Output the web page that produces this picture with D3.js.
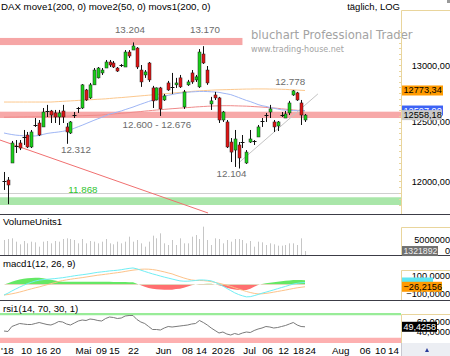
<!DOCTYPE html>
<html><head><meta charset="utf-8">
<script src="https://cdn.jsdelivr.net/npm/d3@7"></script>
<style>
html,body{margin:0;padding:0;background:#fff;overflow:hidden;}
svg{display:block;font-family:"Liberation Sans",Arial,sans-serif;}
</style></head><body>
<svg id="c" width="450" height="356"></svg>
<script>
// ---------------- DATA ----------------
const title = "DAX move1(200, 0) move2(50, 0) movs1(200, 0)";
const period = "täglich, LOG";
const open  = [12000,12008,12150,12285,12319,12361,12387,12285,12464,12490,12456,12585,12594,12577,12542,12594,12456,12404,12559,12612,12620,12778,12708,12823,12885,12929,12973,13027,13018,12973,12991,12982,13117,13135,13153,12955,12911,13018,12796,12690,12796,12690,12840,12805,12823,12885,12629,12823,12929,12867,12805,13099,12955,12655,12734,12708,12516,12499,12327,12259,12302,12327,12150,12327,12336,12370,12507,12559,12585,12499,12464,12559,12533,12577,12734,12752,12664,12516];
const high  = [12075,12033,12336,12344,12344,12430,12413,12430,12533,12516,12620,12647,12603,12603,12603,12647,12490,12507,12585,12629,12830,12787,12840,12973,12982,12973,13045,13045,13036,12982,13009,13135,13135,13204,13162,13000,12955,13027,12814,12800,12805,12743,12858,12929,12885,12911,12778,12867,12955,12911,13144,13170,12991,12717,12761,12717,12594,12516,12361,12430,12327,12387,12259,12430,12344,12473,12533,12577,12647,12516,12507,12585,12594,12682,12778,12761,12690,12568];
const low   = [11926,11810,12150,12234,12259,12302,12276,12276,12456,12378,12456,12542,12490,12490,12473,12490,12312,12396,12533,12577,12612,12682,12699,12823,12880,12911,12973,12982,12973,12938,12982,12982,13063,13135,12964,12805,12885,12849,12620,12686,12551,12682,12770,12743,12796,12796,12612,12814,12832,12849,12796,13009,12823,12603,12690,12490,12499,12276,12158,12117,12104,12276,12142,12319,12302,12370,12456,12499,12533,12413,12421,12542,12533,12559,12726,12682,12473,12499];
const close = [12004,11967,12319,12293,12276,12370,12285,12413,12473,12387,12585,12594,12559,12542,12577,12542,12413,12499,12562,12620,12823,12690,12823,12955,12973,12955,13027,13000,12982,12946,13000,13117,13081,13172,12982,12849,12938,12867,12682,12796,12612,12726,12778,12800,12840,12805,12761,12849,12849,12894,13117,13018,12840,12682,12708,12516,12585,12285,12242,12353,12192,12330,12242,12353,12338,12456,12510,12562,12612,12456,12499,12562,12568,12664,12770,12690,12559,12558.18];
const volume = [5000000,5330000,5560000,4440000,3560000,4670000,3890000,4440000,4220000,2780000,4440000,4670000,3890000,4670000,4440000,5330000,5560000,5330000,5000000,3890000,5330000,3890000,4670000,4440000,3890000,4440000,5330000,3890000,3560000,4440000,3890000,4440000,6110000,4440000,5000000,3890000,2780000,4440000,6440000,5560000,7220000,3890000,3330000,5000000,3330000,5560000,3890000,3890000,6110000,6670000,5330000,9440000,5000000,3330000,5560000,5330000,3890000,5000000,4440000,5330000,5330000,5000000,3890000,4670000,2780000,4440000,4220000,3330000,3890000,3560000,3110000,3110000,3330000,3890000,3890000,3330000,5560000,1321892];
const move1 = [12672,12672,12672,12672,12672,12672,12672,12672,12672,12672,12672,12672,12672,12674,12676,12678,12680,12682,12684,12686,12688,12690,12692,12694,12696,12698,12700,12703,12706,12709,12711,12714,12717,12720,12723,12726,12729,12732,12735,12738,12741,12744,12747,12750,12753,12756,12759,12762,12765,12768,12770,12772,12774,12776,12778,12779,12780,12781,12782,12783,12784,12785,12786,12786,12787,12787,12787,12787,12786,12786,12785,12784,12783,12781,12779,12777,12775,12773.34];
const move2 = [12404,12397,12391,12386,12383,12380,12378,12378,12379,12383,12392,12400,12405,12409,12413,12418,12425,12431,12445,12458,12471,12485,12499,12513,12526,12539,12553,12567,12576,12585,12594,12606,12617,12628,12641,12653,12665,12677,12688,12700,12712,12723,12731,12738,12745,12750,12754,12758,12761,12763,12765,12765,12764,12762,12760,12757,12750,12744,12737,12725,12712,12699,12686,12676,12663,12650,12640,12634,12625,12618,12611,12604,12601,12599,12598,12597,12597,12597.9];
const movs1 = [12540,12540,12541,12541,12542,12542,12543,12543,12544,12544,12545,12545,12546,12547,12548,12549,12549,12550,12551,12552,12553,12554,12555,12556,12557,12559,12562,12565,12568,12571,12574,12577,12580,12583,12586,12589,12593,12596,12599,12602,12605,12608,12611,12614,12616,12619,12621,12624,12626,12629,12631,12633,12635,12637,12638,12639,12640,12640,12640,12639,12638,12637,12636,12634,12632,12630,12628,12625,12622,12620,12617,12613,12610,12606,12603,12600,12597,12594];
const macdLine = [-121,-100,-75,-52,-30,-10,10,25,40,50,56,60,64,68,73,78,85,92,100,106,112,118,125,133,140,145,150,156,160,164,170,178,185,190,180,165,150,136,122,110,97,85,74,63,52,42,38,38,42,46,52,52,48,42,25,5,-18,-45,-70,-95,-115,-130,-142,-140,-128,-115,-100,-88,-75,-62,-48,-35,-22,-8,5,14,20,23.08];
const signalLine = [-121,-115,-107,-98,-87,-75,-62,-50,-38,-28,-15,-3,10,22,35,45,53,60,67,73,79,86,93,100,107,112,118,124,130,136,142,150,158,165,170,175,177,176,172,165,155,145,133,122,105,90,75,62,52,47,46,45,40,33,24,14,3,-8,-22,-37,-52,-66,-80,-92,-102,-108,-107,-102,-96,-88,-80,-72,-64,-55,-46,-38,-32,-26.2156];
const rsi = [41,40,50,53,56,55,54,54,56,58,56,54,53,56,60,59,55,53,57,61,63,62,65,64,62,61,66,69,68,66,67,71,72,72,64,59,56,50,44,44,43,47,50,49,50,51,52,53,55,56,62,58,53,47,42,37,39,35,33,36,34,37,39,38,42,45,47,50,49,47,48,50,52,55,58,53,50,49.4258];
// x-axis ticks (trading-day index positions) and labels
const tickIdx    = [0.75,5.6,9.5,13.05,20.2,24.8,28.1,33,40.7,46.8,50.4,54.4,57.5,62.7,67.3,71.4,75.2,78.3,86,92.3,96.2,99.5];
const tickLabels = ["'18","10","16","20","Mai","09","15","22","Jun","08","14","20","26","Jul","06","12","18","24","Aug","06","10","14"];
const priceTicks = [12000,12500,13000];
const volTicks = [0,5000000];
const macdTicks = [100,-100];
const rsiTicks = [60,40];
// zones / support & resistance
const bandTop = [13180,13245], bandTopIdx=[-2,61];
const bandMid = [12533,12588];
const bandGreen = [11803,11866];
const grayLevel = 11903;
const redTrend = [[-1.02,12344],[52.2,11738]];
const grayTrend = [[60,12150],[80.3,12743]];
const annotations = [
  {t:"13.204", i:32.2, p:13204, dy:-12.6, c:"#6b6b6b"},
  {t:"13.170", i:51.4, p:13170, dy:-16.4, c:"#6b6b6b"},
  {t:"12.778", i:73.2, p:12778, dy:-8.5, c:"#6b6b6b"},
  {t:"12.600 - 12.676", i:39.1, p:12600, dy:14.4, c:"#6b6b6b"},
  {t:"12.312", i:18.4, p:12312, dy:5.7, c:"#6b6b6b"},
  {t:"12.104", i:58.2, p:12104, dy:5, c:"#6b6b6b"},
  {t:"11.868", i:20.2, p:11868, dy:-7.5, c:"#2fc42f"}
];
const lastVals = {close:12558.18, move1:12773.34, move2:12597.9, vol:1321892, macd:23.08, signal:-26.2156, rsi:49.4258};

// ---------------- SCALES ----------------
const svg = d3.select("#c");
const N = close.length;
const x = d3.scaleLinear().domain([0, N-1]).range([4, 305]);
const y = d3.scaleLog().domain([12000,13000]).range([181,65]);
const yV = d3.scaleLinear().domain([0,5000000]).range([255,240]);
const yM = d3.scaleLinear().domain([-100,100]).range([293.2,275.8]);
const yR = d3.scaleLinear().domain([40,60]).range([331.5,321.5]);
const comma = (v,d)=>d3.format("."+d+"f")(v).replace(".",",");
const FONT = "'Liberation Sans', Arial, sans-serif";

const defs = svg.append("defs");
defs.append("clipPath").attr("id","clipMain").append("rect").attr("x",0).attr("y",11).attr("width",401).attr("height",203);
defs.append("clipPath").attr("id","clipPos").append("rect").attr("x",0).attr("y",258).attr("width",401).attr("height",yM(0)-258);
defs.append("clipPath").attr("id","clipNeg").append("rect").attr("x",0).attr("y",yM(0)).attr("width",401).attr("height",300-yM(0));

// ---------------- MAIN PANEL ----------------
const main = svg.append("g").attr("clip-path","url(#clipMain)");
main.append("rect").attr("x",x(bandTopIdx[0])).attr("width",x(bandTopIdx[1])-x(bandTopIdx[0]))
  .attr("y",y(bandTop[1])).attr("height",y(bandTop[0])-y(bandTop[1])).attr("fill","#f6a6a6");
main.append("rect").attr("x",0).attr("width",401).attr("y",y(bandMid[1])).attr("height",y(bandMid[0])-y(bandMid[1])).attr("fill","#f7a8a8");
main.append("rect").attr("x",0).attr("width",401).attr("y",y(bandGreen[1])).attr("height",y(bandGreen[0])-y(bandGreen[1])).attr("fill","#a9e6a9");
main.append("line").attr("x1",0).attr("x2",401).attr("y1",Math.round(y(grayLevel))+0.5).attr("y2",Math.round(y(grayLevel))+0.5).attr("stroke","#cfcfcf");

// watermark
svg.append("text").attr("x",251).attr("y",39).attr("font-family","'DejaVu Sans', Verdana, sans-serif").attr("font-size",11.6).attr("fill","#a3a3a3").text("bluchart Professional Trader");
svg.append("text").attr("x",251).attr("y",51.5).attr("font-family","'DejaVu Sans', Verdana, sans-serif").attr("font-size",8).attr("fill","#a3a3a3").text("www.trading-house.net");

const lineGen = arr => d3.line().x((d,i)=>x(i)).y(d=>y(d))(arr);
main.append("path").attr("d",lineGen(movs1)).attr("fill","none").attr("stroke","#f08a8a").attr("stroke-width",1);
main.append("path").attr("d",lineGen(move1)).attr("fill","none").attr("stroke","#fcc88e").attr("stroke-width",1);
main.append("path").attr("d",lineGen(move2)).attr("fill","none").attr("stroke","#9fb6f5").attr("stroke-width",1);

const segGen = d3.line().x(d=>x(d[0])).y(d=>y(d[1]));
main.append("path").attr("d",segGen(redTrend)).attr("fill","none").attr("stroke","#f07070").attr("stroke-width",1);
main.append("path").attr("d",segGen(grayTrend)).attr("fill","none").attr("stroke","#c4c4c4").attr("stroke-width",1);

// candles
const idx = d3.range(N);
const cg = main.append("g");
cg.selectAll("line.w").data(idx).join("line").attr("class","w")
  .attr("x1",i=>Math.round(x(i))+0.5).attr("x2",i=>Math.round(x(i))+0.5)
  .attr("y1",i=>y(high[i])).attr("y2",i=>y(low[i])).attr("stroke","#111").attr("stroke-width",1);
const isDoji = i => Math.abs(y(open[i])-y(close[i])) < 1.2;
cg.selectAll("rect.b").data(idx.filter(i=>!isDoji(i))).join("rect").attr("class","b")
  .attr("x",i=>Math.round(x(i))-1).attr("width",3)
  .attr("y",i=>Math.min(y(open[i]),y(close[i]))).attr("height",i=>Math.abs(y(open[i])-y(close[i])))
  .attr("fill",i=>close[i]>open[i]?"#18d018":"#e01414").attr("stroke","#222").attr("stroke-width",0.5);
cg.selectAll("line.d").data(idx.filter(isDoji)).join("line").attr("class","d")
  .attr("x1",i=>Math.round(x(i))-1.5).attr("x2",i=>Math.round(x(i))+2.5)
  .attr("y1",i=>Math.round(y(close[i]))+0.5).attr("y2",i=>Math.round(y(close[i]))+0.5).attr("stroke","#111");

// annotations
svg.selectAll("text.ann").data(annotations).join("text").attr("class","ann")
  .attr("x",d=>x(d.i)).attr("y",d=>y(d.p)+d.dy).attr("dominant-baseline","central")
  .attr("text-anchor","middle").attr("font-size",9.8).attr("fill",d=>d.c).text(d=>d.t);

// title
svg.append("text").attr("x",1).attr("y",9.5).attr("font-size",9.7).attr("fill","#000").text(title);
svg.append("text").attr("x",400).attr("y",9.5).attr("text-anchor","end").attr("font-size",9.5).attr("fill","#000").text(period);
svg.append("rect").attr("x",447).attr("y",0).attr("width",3).attr("height",3).attr("fill","#999");

// ---------------- VOLUME ----------------
svg.append("g").selectAll("line").data(idx).join("line")
  .attr("x1",i=>Math.round(x(i))+0.5).attr("x2",i=>Math.round(x(i))+0.5)
  .attr("y1",yV(0)).attr("y2",i=>yV(volume[i])).attr("stroke","#c6c6c6").attr("stroke-width",1);

// ---------------- MACD ----------------
const hist = macdLine.map((m,i)=>m-signalLine[i]);
const areaH = d3.area().x((d,i)=>x(i)).y0(yM(0)).y1(d=>yM(d));
svg.append("path").attr("d",areaH(hist)).attr("fill","#64e864").attr("clip-path","url(#clipPos)");
svg.append("path").attr("d",areaH(hist)).attr("fill","#ff6f6f").attr("clip-path","url(#clipNeg)");
const lineM = d3.line().x((d,i)=>x(i)).y(d=>yM(d));
svg.append("path").attr("d",lineM(signalLine)).attr("fill","none").attr("stroke","#fdc38a").attr("stroke-width",1);
svg.append("path").attr("d",lineM(macdLine)).attr("fill","none").attr("stroke","#70eef4").attr("stroke-width",1);

// ---------------- RSI ----------------
svg.append("rect").attr("x",0).attr("width",401).attr("y",yR(77)).attr("height",yR(72.5)-yR(77)).attr("fill","#98ec98");
svg.append("rect").attr("x",0).attr("width",401).attr("y",yR(27.5)).attr("height",343-yR(27.5)).attr("fill","#fdb0b0");
svg.append("path").attr("d",d3.line().x((d,i)=>x(i)).y(d=>yR(d))(rsi)).attr("fill","none").attr("stroke","#7a7a7a").attr("stroke-width",1);

// ---------------- PANEL FRAMES ----------------
[214.5,255.5,300.5].forEach(v=>svg.append("line").attr("x1",0).attr("x2",450).attr("y1",v).attr("y2",v).attr("stroke","#3c3c46"));
[[10.5,214],[227.5,255],[270.5,300],[314.5,343]].forEach(([t,b])=>{
  svg.append("path").attr("d",`M401.5,${b}V${t}H450`).attr("fill","none").attr("stroke","#e9d59c");
});
svg.append("g").selectAll("line").data(d3.range(11800,13301,50)).join("line")
  .attr("x1",399).attr("x2",401).attr("y1",d=>Math.round(y(d))+0.5).attr("y2",d=>Math.round(y(d))+0.5).attr("stroke","#e9d59c");

["VolumeUnits1","macd1(12, 26, 9)","rsi1(14, 70, 30, 1)"].forEach((t,k)=>{
  svg.append("text").attr("x",3).attr("y",[221,263.5,308][k]).attr("dominant-baseline","central").attr("font-size",9.6).attr("fill","#000").text(t);
});

// ---------------- RIGHT AXES ----------------
function rightAxis(scale, ticks, fmt, clampMax){
  const g = svg.append("g").attr("transform","translate(450,0)")
    .call(d3.axisRight(scale).tickValues(ticks).tickFormat(fmt).tickSize(0));
  g.select(".domain").remove();
  g.selectAll("text").attr("x",0).attr("dy",null).attr("dominant-baseline","central")
    .attr("text-anchor","end").attr("font-family",FONT).attr("font-size",9.2).attr("fill","#000");
  if(clampMax!==undefined) g.selectAll(".tick").attr("transform",d=>`translate(0,${Math.min(scale(d),clampMax)})`);
  return g;
}
rightAxis(y, priceTicks, d=>comma(d,2));
rightAxis(yV, volTicks, d=>String(d), 251);
rightAxis(yM, macdTicks, d=>comma(d,4));
rightAxis(yR, rsiTicks, d=>comma(d,4));

function valBox(yc, w, fill, txt, col, fs){
  svg.append("rect").attr("x",402).attr("y",yc-5).attr("width",w).attr("height",10).attr("fill",fill);
  if(txt) svg.append("text").attr("x",403.5).attr("y",yc).attr("dominant-baseline","central").attr("font-size",fs||9.2).attr("fill",col).text(txt);
}
valBox(y(lastVals.move1), 41, "#ff9a00", comma(lastVals.move1,2), "#000");
valBox(y(lastVals.move2), 41, "#3d63f5", comma(lastVals.move2,2), "#fff");
valBox(y(lastVals.close), 40, "#c9c9c9", comma(lastVals.close,2), "#000");
valBox(yV(lastVals.vol), 36, "#707070", String(lastVals.vol), "#eee", 8.7);
valBox(yM(lastVals.macd), 31, "#5fe6f2", null, "#000");
valBox(yM(lastVals.signal), 40, "#ff9a00", comma(lastVals.signal,4), "#000");
valBox(yR(lastVals.rsi), 35, "#000", comma(lastVals.rsi,4), "#fff", 9);

// ---------------- X AXIS ----------------
const xa = svg.append("g").attr("transform","translate(0,343)")
  .call(d3.axisBottom(x).tickValues(tickIdx).tickFormat((d,i)=>tickLabels[i]).tickSize(0));
xa.select(".domain").remove();
xa.selectAll("text").attr("y",4.4).attr("font-family",FONT).attr("font-size",9.8).attr("fill","#000");
svg.append("rect").attr("x",401).attr("y",343).attr("width",49).attr("height",13).attr("fill","#eceef3");
svg.append("line").attr("x1",401.5).attr("x2",401.5).attr("y1",343).attr("y2",356).attr("stroke","#c8c8d0");
svg.append("path").attr("d","M425,352L427,348L429,352Z").attr("fill","#2a3c9a");
</script>
</body></html>
